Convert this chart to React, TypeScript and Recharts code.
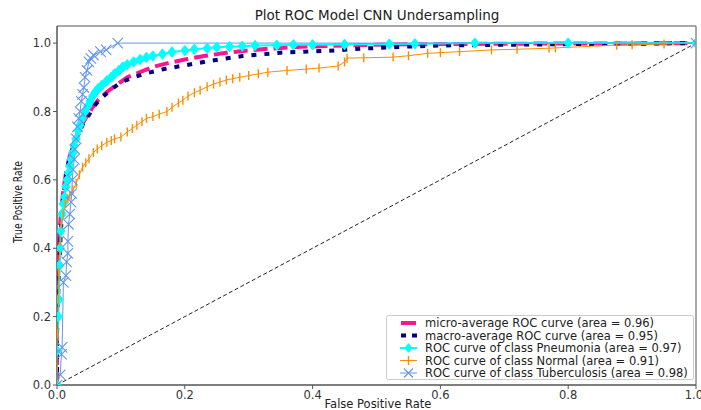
import React from "react";
import { LineChart, Line, XAxis, YAxis, ReferenceArea } from "recharts";

// ---- data ----
const xTicks = [0, 0.2, 0.4, 0.6, 0.8, 1.0];
const yTicks = [0, 0.2, 0.4, 0.6, 0.8, 1.0];

const microFpr = [0, 0, 0.002, 0.004, 0.007, 0.01, 0.014, 0.02, 0.027, 0.035, 0.045, 0.055, 0.065, 0.08, 0.095, 0.11, 0.13, 0.15, 0.17, 0.2, 0.23, 0.27, 0.32, 0.38, 0.45, 0.52, 0.6, 0.7, 0.8, 0.9, 1];
const microTpr = [0, 0.2, 0.35, 0.45, 0.52, 0.57, 0.62, 0.67, 0.71, 0.75, 0.78, 0.81, 0.835, 0.86, 0.88, 0.9, 0.915, 0.93, 0.94, 0.952, 0.962, 0.973, 0.982, 0.989, 0.993, 0.996, 0.997, 0.998, 0.999, 0.999, 1];

const macroFpr = [0, 0, 0.003, 0.006, 0.01, 0.015, 0.02, 0.03, 0.04, 0.05, 0.06, 0.07, 0.085, 0.1, 0.12, 0.14, 0.17, 0.2, 0.24, 0.29, 0.35, 0.42, 0.48, 0.55, 0.6, 0.7, 0.8, 0.9, 1];
const macroTpr = [0, 0.15, 0.33, 0.45, 0.55, 0.62, 0.67, 0.72, 0.76, 0.79, 0.82, 0.84, 0.865, 0.885, 0.9, 0.912, 0.925, 0.935, 0.948, 0.962, 0.972, 0.977, 0.984, 0.99, 0.993, 0.995, 0.997, 0.998, 1];

const pneuFpr = [0, 0, 0.002, 0.003, 0.004, 0.005, 0.006, 0.008, 0.01, 0.012, 0.014, 0.016, 0.018, 0.02, 0.022, 0.025, 0.027, 0.03, 0.033, 0.036, 0.04, 0.044, 0.048, 0.052, 0.056, 0.06, 0.065, 0.07, 0.078, 0.085, 0.09, 0.097, 0.103, 0.11, 0.12, 0.13, 0.14, 0.15, 0.165, 0.18, 0.2, 0.215, 0.235, 0.25, 0.27, 0.29, 0.31, 0.344, 0.37, 0.4, 0.45, 0.52, 0.56, 0.654, 0.8, 1];
const pneuTpr = [0, 0.1, 0.2, 0.25, 0.35, 0.4, 0.45, 0.5, 0.53, 0.55, 0.58, 0.6, 0.62, 0.64, 0.66, 0.68, 0.7, 0.72, 0.745, 0.76, 0.78, 0.8, 0.815, 0.83, 0.845, 0.857, 0.868, 0.876, 0.89, 0.9, 0.91, 0.92, 0.93, 0.937, 0.945, 0.952, 0.958, 0.962, 0.968, 0.974, 0.978, 0.982, 0.985, 0.988, 0.99, 0.991, 0.993, 0.994, 0.995, 0.995, 0.996, 0.997, 0.998, 1, 1, 1];

const normFpr = [0, 0, 0.001, 0.002, 0.003, 0.004, 0.005, 0.007, 0.01, 0.013, 0.017, 0.02, 0.025, 0.03, 0.035, 0.04, 0.045, 0.05, 0.057, 0.063, 0.07, 0.078, 0.085, 0.09, 0.1, 0.11, 0.118, 0.125, 0.133, 0.14, 0.15, 0.16, 0.172, 0.18, 0.19, 0.197, 0.205, 0.215, 0.224, 0.235, 0.245, 0.255, 0.265, 0.275, 0.286, 0.3, 0.315, 0.33, 0.36, 0.39, 0.41, 0.44, 0.45, 0.454, 0.48, 0.526, 0.55, 0.58, 0.6, 0.63, 0.68, 0.72, 0.77, 0.78, 0.876, 0.9, 0.95, 1];
const normTpr = [0, 0.05, 0.15, 0.25, 0.33, 0.38, 0.42, 0.47, 0.5, 0.53, 0.545, 0.555, 0.57, 0.59, 0.615, 0.637, 0.65, 0.662, 0.68, 0.69, 0.7, 0.71, 0.715, 0.72, 0.725, 0.74, 0.75, 0.76, 0.77, 0.78, 0.785, 0.792, 0.8, 0.812, 0.825, 0.833, 0.845, 0.855, 0.862, 0.872, 0.88, 0.886, 0.892, 0.896, 0.9, 0.905, 0.91, 0.915, 0.92, 0.924, 0.927, 0.933, 0.945, 0.956, 0.957, 0.959, 0.963, 0.97, 0.972, 0.975, 0.98, 0.982, 0.985, 0.986, 0.994, 0.995, 0.997, 1];

const tbFpr = [0, 0.005, 0.007, 0.008, 0.01, 0.014, 0.015, 0.017, 0.017, 0.018, 0.02, 0.022, 0.023, 0.024, 0.025, 0.027, 0.028, 0.03, 0.032, 0.034, 0.036, 0.038, 0.04, 0.042, 0.044, 0.047, 0.05, 0.053, 0.057, 0.068, 0.077, 0.095, 1];
const tbTpr = [0, 0.03, 0.09, 0.11, 0.3, 0.32, 0.36, 0.385, 0.42, 0.47, 0.5, 0.535, 0.56, 0.6, 0.63, 0.66, 0.69, 0.72, 0.755, 0.78, 0.8, 0.83, 0.85, 0.87, 0.9, 0.92, 0.945, 0.955, 0.965, 0.975, 0.98, 1.0, 1.0];

const diagFpr = [0, 1];
const diagTpr = [0, 1];

const seriesNames = [
  "micro-average ROC curve (area = 0.96)",
  "macro-average ROC curve (area = 0.95)",
  "ROC curve of class Pneumonia (area = 0.97)",
  "ROC curve of class Normal (area = 0.91)",
  "ROC curve of class Tuberculosis (area = 0.98)",
];

const zip = (xs: number[], ys: number[]) => xs.map((x, i) => ({ x, y: ys[i] }));
const microData = zip(microFpr, microTpr);
const macroData = zip(macroFpr, macroTpr);
const pneuData = zip(pneuFpr, pneuTpr);
const normData = zip(normFpr, normTpr);
const tbData = zip(tbFpr, tbTpr);
const diagData = zip(diagFpr, diagTpr);

const PINK = "#ff1493";
const NAVY = "#000080";
const CYAN = "#00ffff";
const ORANGE = "#ff8c00";
const BLUE = "#6495ed";
const FONT = "'DejaVu Sans', sans-serif";

const DiamondDot = (p: any) => {
  const { cx, cy, index } = p;
  if (cx == null || cy == null) return <g key={"d" + index} />;
  const r = 5.2;
  return (
    <path key={"d" + index} d={`M${cx},${cy - r}L${cx + r * 0.8},${cy}L${cx},${cy + r}L${cx - r * 0.8},${cy}Z`} fill={CYAN} stroke={CYAN} strokeWidth={1} />
  );
};
const VBarDot = (p: any) => {
  const { cx, cy, index } = p;
  if (cx == null || cy == null) return <g key={"v" + index} />;
  return <line key={"v" + index} x1={cx} x2={cx} y1={cy - 4.5} y2={cy + 4.5} stroke={ORANGE} strokeWidth={1.4} />;
};
const XDot = (p: any) => {
  const { cx, cy, index } = p;
  if (cx == null || cy == null) return <g key={"x" + index} />;
  const r = 5.2;
  return (
    <path key={"x" + index} d={`M${cx - r},${cy - r}L${cx + r},${cy + r}M${cx - r},${cy + r}L${cx + r},${cy - r}`} stroke={BLUE} strokeWidth={1.1} fill="none" />
  );
};

const legendY = [323, 335.5, 348, 360.5, 373];

export default function App() {
  return (
    <div style={{ position: "absolute", left: 0, top: 0, width: 701, height: 410, background: "#fff" }}>
      <LineChart width={701} height={410} margin={{ top: 26, right: 5, bottom: 0, left: 0 }}>
        <XAxis
          dataKey="x"
          type="number"
          domain={[0, 1]}
          ticks={xTicks}
          tickFormatter={(v: number) => v.toFixed(1)}
          height={25}
          tickSize={4}
          stroke="#555"
          tick={{ fill: "#333", fontSize: 11.5, fontFamily: FONT }}
          allowDataOverflow
        />
        <YAxis
          dataKey="y"
          type="number"
          domain={[0, 1.05]}
          ticks={yTicks}
          tickFormatter={(v: number) => v.toFixed(1)}
          width={57}
          tickSize={4}
          stroke="#555"
          tick={{ fill: "#333", fontSize: 11.5, fontFamily: FONT }}
          allowDataOverflow
        />
        <ReferenceArea x1={0} x2={1} y1={0} y2={1.05} fill="none" stroke="#555" strokeWidth={1} ifOverflow="visible" />
        <Line data={microData} dataKey="y" stroke={PINK} strokeWidth={4} strokeDasharray="14 6" dot={false} isAnimationActive={false} />
        <Line data={macroData} dataKey="y" stroke={NAVY} strokeWidth={4} strokeDasharray="5 8" dot={false} isAnimationActive={false} />
        <Line data={pneuData} dataKey="y" stroke={CYAN} strokeWidth={2} dot={DiamondDot} isAnimationActive={false} />
        <Line data={normData} dataKey="y" stroke={ORANGE} strokeWidth={1} dot={VBarDot} isAnimationActive={false} />
        <Line data={tbData} dataKey="y" stroke={BLUE} strokeWidth={1} dot={XDot} isAnimationActive={false} />
        <Line data={diagData} dataKey="y" stroke="#222" strokeWidth={1} strokeDasharray="4 2.5" dot={false} isAnimationActive={false} />
      </LineChart>
      <svg width={701} height={410} style={{ position: "absolute", left: 0, top: 0, pointerEvents: "none" }}>
        <text x={377} y={20} textAnchor="middle" fontFamily={FONT} fontSize={13.5} fill="#222">Plot ROC Model CNN Undersampling</text>
        <text x={378} y={408} textAnchor="middle" fontFamily={FONT} fontSize={11.5} fill="#222">False Positive Rate</text>
        <text transform="translate(22,202) rotate(-90) scale(0.8,1)" textAnchor="middle" fontFamily={FONT} fontSize={11.5} fill="#222">True Positive Rate</text>
        <rect x={386.5} y={315.5} width={307} height={64} rx={2} fill="#fff" fillOpacity={0.85} stroke="#ccc" />
        {/* micro */}
        <line x1={401} x2={416} y1={legendY[0]} y2={legendY[0]} stroke={PINK} strokeWidth={4} />
        {/* macro */}
        <line x1={401} x2={417} y1={legendY[1]} y2={legendY[1]} stroke={NAVY} strokeWidth={4} strokeDasharray="5 6" />
        {/* pneumonia */}
        <line x1={400} x2={417} y1={legendY[2]} y2={legendY[2]} stroke={CYAN} strokeWidth={2} />
        <path d={`M408.5,${legendY[2] - 5}L412.5,${legendY[2]}L408.5,${legendY[2] + 5}L404.5,${legendY[2]}Z`} fill={CYAN} />
        {/* normal */}
        <line x1={400} x2={417} y1={legendY[3]} y2={legendY[3]} stroke={ORANGE} strokeWidth={1} />
        <line x1={408.5} x2={408.5} y1={legendY[3] - 4.5} y2={legendY[3] + 4.5} stroke={ORANGE} strokeWidth={1.4} />
        {/* tb */}
        <line x1={400} x2={417} y1={legendY[4]} y2={legendY[4]} stroke={BLUE} strokeWidth={1} />
        <path d={`M404,${legendY[4] - 4.5}L413,${legendY[4] + 4.5}M404,${legendY[4] + 4.5}L413,${legendY[4] - 4.5}`} stroke={BLUE} strokeWidth={1.1} />
        {seriesNames.map((n, i) => (
          <text key={n} x={425} y={legendY[i] + 4} fontFamily={FONT} fontSize={11.5} fill="#222">{n}</text>
        ))}
      </svg>
    </div>
  );
}
